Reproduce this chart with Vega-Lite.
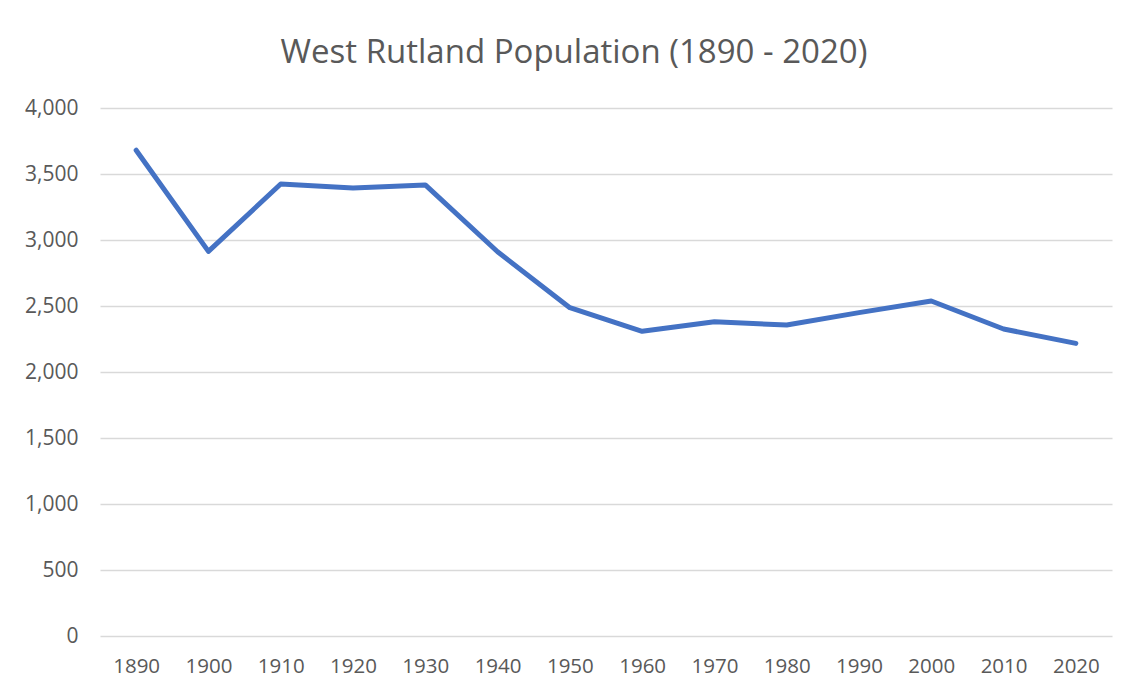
{
  "$schema": "https://vega.github.io/schema/vega-lite/v6.json",
  "autosize": "none",
  "width": 1012,
  "height": 528,
  "padding": {"left": 100, "top": 108, "right": 20, "bottom": 56},
  "background": "white",
  "title": {
    "text": "West Rutland Population (1890 - 2020)",
    "font": "Open Sans",
    "fontSize": 33,
    "fontWeight": "normal",
    "color": "#595959",
    "anchor": "middle",
    "dx": -32,
    "offset": 27
  },
  "data": {
    "values": [
      {"year": "1890", "population": 3680},
      {"year": "1900", "population": 2914},
      {"year": "1910", "population": 3424},
      {"year": "1920", "population": 3394},
      {"year": "1930", "population": 3417},
      {"year": "1940", "population": 2911},
      {"year": "1950", "population": 2487},
      {"year": "1960", "population": 2308},
      {"year": "1970", "population": 2381},
      {"year": "1980", "population": 2356},
      {"year": "1990", "population": 2450},
      {"year": "2000", "population": 2538},
      {"year": "2010", "population": 2326},
      {"year": "2020", "population": 2217}
    ]
  },
  "mark": {"type": "line", "color": "#4472C4", "strokeWidth": 5, "strokeCap": "round", "strokeJoin": "round"},
  "encoding": {
    "x": {
      "field": "year",
      "type": "ordinal",
      "scale": {"type": "point", "padding": 0.5},
      "axis": {
        "title": null,
        "labelAngle": 0,
        "domain": false,
        "ticks": false,
        "labelFont": "Open Sans",
        "labelFontSize": 20.5,
        "labelColor": "#595959",
        "labelPadding": 20
      }
    },
    "y": {
      "field": "population",
      "type": "quantitative",
      "scale": {"domain": [0, 4000]},
      "axis": {
        "title": null,
        "values": [0, 500, 1000, 1500, 2000, 2500, 3000, 3500, 4000],
        "format": ",.0f",
        "domain": false,
        "ticks": false,
        "grid": true,
        "gridColor": "#d9d9d9",
        "gridWidth": 1.3,
        "labelFont": "Open Sans",
        "labelFontSize": 21,
        "labelColor": "#595959",
        "labelPadding": 22
      }
    }
  },
  "config": {"view": {"stroke": null}}
}
